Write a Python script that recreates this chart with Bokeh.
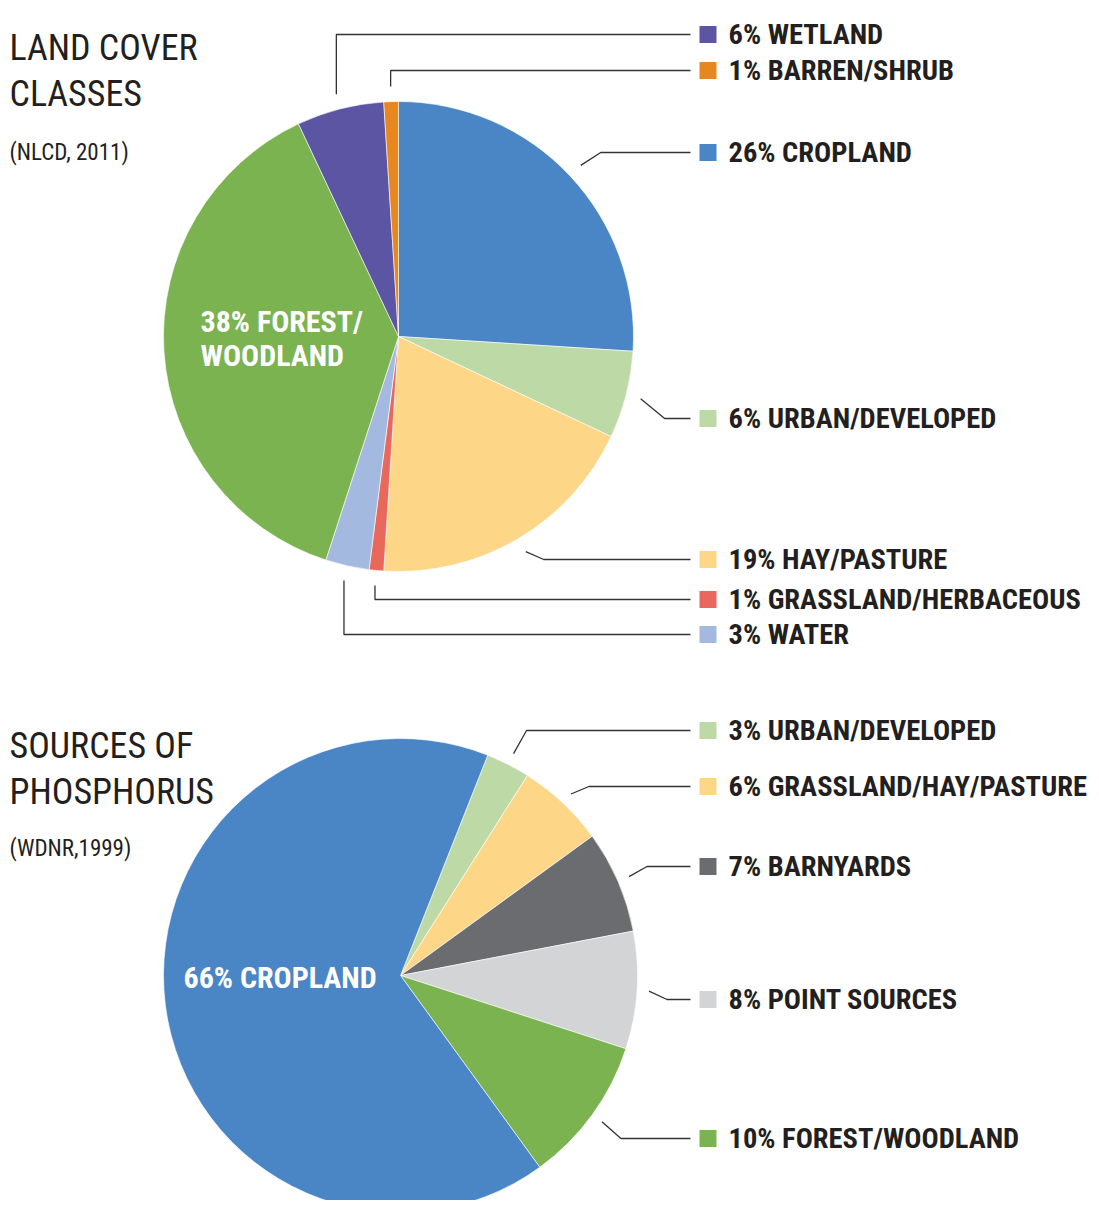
import numpy as np
from bokeh.plotting import figure
from bokeh.models import Range1d
from bokeh.core.properties import value
from bokeh.embed import file_html
from bokeh.resources import INLINE

# ---------------- data ----------------
land_classes = ["CROPLAND", "URBAN/DEVELOPED", "HAY/PASTURE", "GRASSLAND/HERBACEOUS",
                "WATER", "FOREST/WOODLAND", "WETLAND", "BARREN/SHRUB"]
land_pct = [26, 6, 19, 1, 3, 38, 6, 1]
land_colors = ["#4A86C6", "#BDD9A6", "#FDD787", "#E8695B", "#A4B9E0", "#7BB351", "#5B55A3", "#E8861F"]

phos_sources = ["URBAN/DEVELOPED", "GRASSLAND/HAY/PASTURE", "BARNYARDS", "POINT SOURCES",
                "FOREST/WOODLAND", "CROPLAND"]
phos_pct = [3, 6, 7, 8, 10, 66]
phos_colors = ["#BDD9A6", "#FDD787", "#6B6C70", "#D3D4D6", "#7BB351", "#4A86C6"]

# ---------------- layout (page pixels, y downward) ----------------
W, H = 1095, 1200
FONT = "Roboto Condensed"

p = figure(width=W, height=H, output_backend="svg", toolbar_location=None,
           x_range=Range1d(0, W), y_range=Range1d(-H, 0),
           min_border=0, outline_line_color=None)
p.axis.visible = False
p.grid.visible = False
p.background_fill_color = "white"
p.border_fill_color = "white"


def Y(v):
    return -np.asarray(v, dtype=float)


def draw_pie(cx, cy, r, pcts, colors, names, start_deg, label_y, elbow_dx, lead_off, inside):
    pcts = np.asarray(pcts, dtype=float)
    ends = start_deg - np.cumsum(pcts) * 3.6
    starts = ends + pcts * 3.6
    p.wedge(x=[cx] * len(pcts), y=list(Y([cy] * len(pcts))), radius=r,
            start_angle=list(np.radians(starts)), end_angle=list(np.radians(ends)),
            direction="clock", fill_color=colors, line_color="white", line_alpha=0.6,
            line_width=1)
    mids = np.radians((starts + ends) / 2)
    xs, ys = [], []
    lx, ly, lt, lc = [], [], [], []
    for i, name in enumerate(names):
        if label_y[i] is None:
            continue
        sx = cx + (r + lead_off) * np.cos(mids[i])
        sy = cy - (r + lead_off) * np.sin(mids[i])
        ex = sx + elbow_dx[i]
        xs.append([sx, ex, 690])
        ys.append(list(Y([sy, label_y[i], label_y[i]])))
        lx.append(728)
        ly.append(-label_y[i])
        lt.append(f"{int(pcts[i])}% {name}")
        lc.append(colors[i])
    p.multi_line(xs=xs, ys=ys, line_color="#333333", line_width=1.3)
    p.rect(x=[707.5] * len(ly), y=ly, width=17, height=17, fill_color=lc, line_color=None)
    p.text(x=lx, y=ly, text=lt, text_font=value(FONT), text_font_size=value("28.5px"),
           text_font_style="bold", text_color="#231F20", text_baseline="middle")
    for (tx, ty, txt) in inside:
        p.text(x=[tx], y=[-ty], text=[txt], text_font=value(FONT), text_font_size=value("30px"),
               text_font_style="bold", text_color="white", text_baseline="middle")


# top pie
draw_pie(398, 336, 235, land_pct, land_colors, land_classes, 90,
         label_y=[152, 418, 559, 599, 634, None, 34, 70],
         elbow_dx=[20, 24, 18, 0, 0, 0, 0, 0], lead_off=15,
         inside=[(200, 321, "38% FOREST/"), (200, 355, "WOODLAND")])

# bottom pie
draw_pie(400, 975, 237, phos_pct, phos_colors, phos_sources, 68.4,
         label_y=[730, 786, 866, 999, 1138, None],
         elbow_dx=[13, 18, 18, 18, 19, 0], lead_off=12,
         inside=[(183, 977, "66% CROPLAND")])

# titles
titles = [("LAND COVER", 47, "36px"), ("CLASSES", 93, "36px"), ("(NLCD, 2011)", 152, "23px"),
          ("SOURCES OF", 745, "36px"), ("PHOSPHORUS", 791, "36px"), ("(WDNR,1999)", 848, "23px")]
for t, by, fs in titles:
    p.text(x=[9], y=[-by], text=[t], text_font=value(FONT), text_font_size=value(fs),
           text_color="#231F20", text_baseline="alphabetic")

open("out.html", "w").write(file_html(p, INLINE))
